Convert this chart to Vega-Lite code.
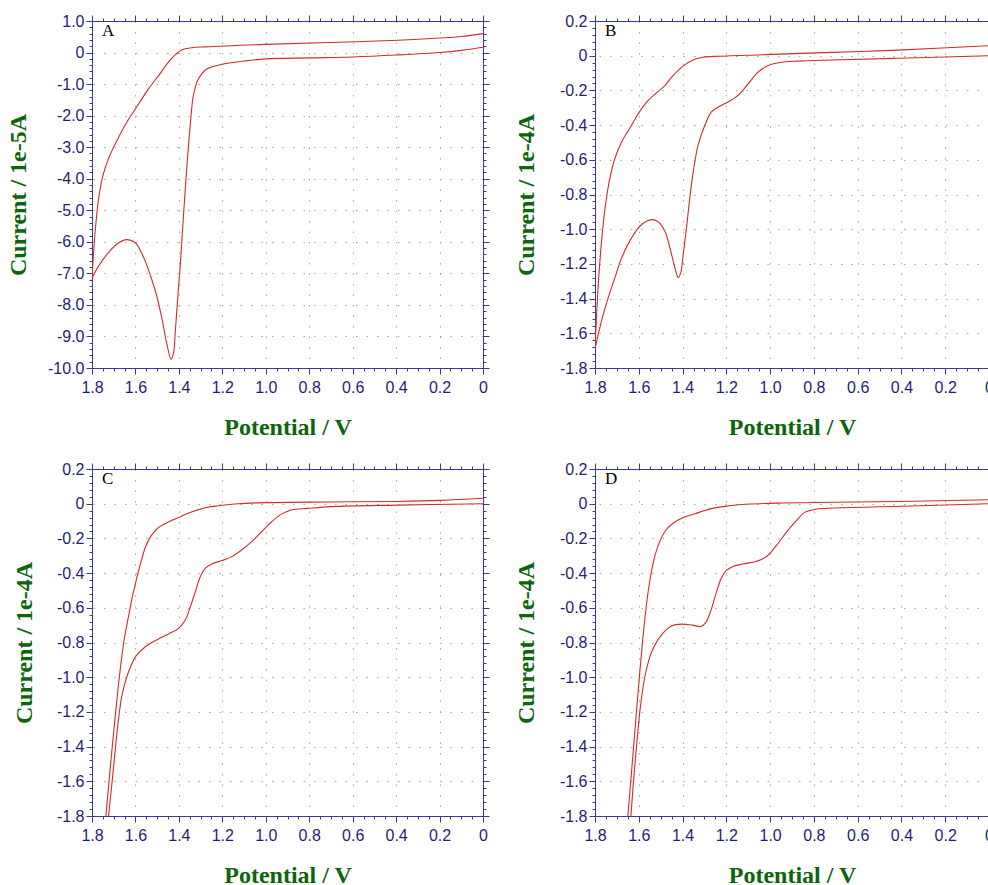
{
  "$schema": "https://vega.github.io/schema/vega-lite/v6.json",
  "padding": {"left": 6, "top": 13, "right": 0, "bottom": 0},
  "background": "white",
  "columns": 2,
  "spacing": {"row": 101, "column": 112},
  "bounds": "flush",
  "data": {"values": [
    {"p":"A","b":"u","s":1,"E":0,"I":0.6},{"p":"A","b":"u","s":2,"E":0.1,"I":0.51},{"p":"A","b":"u","s":3,"E":0.2,"I":0.46},{"p":"A","b":"u","s":4,"E":0.39,"I":0.39},{"p":"A","b":"u","s":5,"E":0.7,"I":0.32},{"p":"A","b":"u","s":6,"E":1.0,"I":0.26},{"p":"A","b":"u","s":7,"E":1.28,"I":0.18},{"p":"A","b":"u","s":8,"E":1.34,"I":0.15},{"p":"A","b":"u","s":9,"E":1.385,"I":0.09},{"p":"A","b":"u","s":10,"E":1.415,"I":-0.06},{"p":"A","b":"u","s":11,"E":1.45,"I":-0.32},{"p":"A","b":"u","s":12,"E":1.49,"I":-0.7},{"p":"A","b":"u","s":13,"E":1.54,"I":-1.15},{"p":"A","b":"u","s":14,"E":1.59,"I":-1.68},{"p":"A","b":"u","s":15,"E":1.64,"I":-2.21},{"p":"A","b":"u","s":16,"E":1.69,"I":-2.85},{"p":"A","b":"u","s":17,"E":1.725,"I":-3.38},{"p":"A","b":"u","s":18,"E":1.75,"I":-3.91},{"p":"A","b":"u","s":19,"E":1.77,"I":-4.65},{"p":"A","b":"u","s":20,"E":1.786,"I":-5.72},{"p":"A","b":"u","s":21,"E":1.8,"I":-7.15},
    {"p":"A","b":"l","s":1,"E":1.8,"I":-7.15},{"p":"A","b":"l","s":2,"E":1.771,"I":-6.78},{"p":"A","b":"l","s":3,"E":1.725,"I":-6.35},{"p":"A","b":"l","s":4,"E":1.679,"I":-6.04},{"p":"A","b":"l","s":5,"E":1.64,"I":-5.93},{"p":"A","b":"l","s":6,"E":1.602,"I":-6.02},{"p":"A","b":"l","s":7,"E":1.571,"I":-6.36},{"p":"A","b":"l","s":8,"E":1.51,"I":-7.52},{"p":"A","b":"l","s":9,"E":1.48,"I":-8.37},{"p":"A","b":"l","s":10,"E":1.456,"I":-9.22},{"p":"A","b":"l","s":11,"E":1.436,"I":-9.72},{"p":"A","b":"l","s":12,"E":1.425,"I":-9.54},{"p":"A","b":"l","s":13,"E":1.417,"I":-8.9},{"p":"A","b":"l","s":14,"E":1.406,"I":-7.84},{"p":"A","b":"l","s":15,"E":1.394,"I":-6.78},{"p":"A","b":"l","s":16,"E":1.379,"I":-5.18},{"p":"A","b":"l","s":17,"E":1.363,"I":-3.59},{"p":"A","b":"l","s":18,"E":1.348,"I":-2.32},{"p":"A","b":"l","s":19,"E":1.333,"I":-1.36},{"p":"A","b":"l","s":20,"E":1.31,"I":-0.83},{"p":"A","b":"l","s":21,"E":1.28,"I":-0.56},{"p":"A","b":"l","s":22,"E":1.25,"I":-0.46},{"p":"A","b":"l","s":23,"E":1.2,"I":-0.37},{"p":"A","b":"l","s":24,"E":1.1,"I":-0.27},{"p":"A","b":"l","s":25,"E":1.0,"I":-0.2},{"p":"A","b":"l","s":26,"E":0.8,"I":-0.17},{"p":"A","b":"l","s":27,"E":0.6,"I":-0.14},{"p":"A","b":"l","s":28,"E":0.4,"I":-0.08},{"p":"A","b":"l","s":29,"E":0.2,"I":0.0},{"p":"A","b":"l","s":30,"E":0.1,"I":0.07},{"p":"A","b":"l","s":31,"E":0,"I":0.17},
    {"p":"B","b":"u","s":1,"E":0,"I":0.058},{"p":"B","b":"u","s":2,"E":0.416,"I":0.032},{"p":"B","b":"u","s":3,"E":0.72,"I":0.019},{"p":"B","b":"u","s":4,"E":1.024,"I":0.006},{"p":"B","b":"u","s":5,"E":1.252,"I":-0.004},{"p":"B","b":"u","s":6,"E":1.314,"I":-0.01},{"p":"B","b":"u","s":7,"E":1.359,"I":-0.029},{"p":"B","b":"u","s":8,"E":1.405,"I":-0.067},{"p":"B","b":"u","s":9,"E":1.45,"I":-0.124},{"p":"B","b":"u","s":10,"E":1.481,"I":-0.172},{"p":"B","b":"u","s":11,"E":1.511,"I":-0.206},{"p":"B","b":"u","s":12,"E":1.557,"I":-0.258},{"p":"B","b":"u","s":13,"E":1.602,"I":-0.334},{"p":"B","b":"u","s":14,"E":1.633,"I":-0.401},{"p":"B","b":"u","s":15,"E":1.678,"I":-0.496},{"p":"B","b":"u","s":16,"E":1.709,"I":-0.592},{"p":"B","b":"u","s":17,"E":1.732,"I":-0.706},{"p":"B","b":"u","s":18,"E":1.754,"I":-0.878},{"p":"B","b":"u","s":19,"E":1.77,"I":-1.069},{"p":"B","b":"u","s":20,"E":1.785,"I":-1.317},{"p":"B","b":"u","s":21,"E":1.8,"I":-1.69},
    {"p":"B","b":"l","s":1,"E":1.8,"I":-1.69},{"p":"B","b":"l","s":2,"E":1.77,"I":-1.527},{"p":"B","b":"l","s":3,"E":1.739,"I":-1.393},{"p":"B","b":"l","s":4,"E":1.709,"I":-1.279},{"p":"B","b":"l","s":5,"E":1.678,"I":-1.164},{"p":"B","b":"l","s":6,"E":1.633,"I":-1.05},{"p":"B","b":"l","s":7,"E":1.587,"I":-0.973},{"p":"B","b":"l","s":8,"E":1.541,"I":-0.945},{"p":"B","b":"l","s":9,"E":1.511,"I":-0.958},{"p":"B","b":"l","s":10,"E":1.481,"I":-1.011},{"p":"B","b":"l","s":11,"E":1.458,"I":-1.107},{"p":"B","b":"l","s":12,"E":1.435,"I":-1.221},{"p":"B","b":"l","s":13,"E":1.42,"I":-1.279},{"p":"B","b":"l","s":14,"E":1.408,"I":-1.25},{"p":"B","b":"l","s":15,"E":1.397,"I":-1.145},{"p":"B","b":"l","s":16,"E":1.382,"I":-0.992},{"p":"B","b":"l","s":17,"E":1.367,"I":-0.821},{"p":"B","b":"l","s":18,"E":1.351,"I":-0.668},{"p":"B","b":"l","s":19,"E":1.329,"I":-0.515},{"p":"B","b":"l","s":20,"E":1.298,"I":-0.401},{"p":"B","b":"l","s":21,"E":1.268,"I":-0.324},{"p":"B","b":"l","s":22,"E":1.237,"I":-0.296},{"p":"B","b":"l","s":23,"E":1.192,"I":-0.267},{"p":"B","b":"l","s":24,"E":1.146,"I":-0.229},{"p":"B","b":"l","s":25,"E":1.1,"I":-0.162},{"p":"B","b":"l","s":26,"E":1.055,"I":-0.095},{"p":"B","b":"l","s":27,"E":1.009,"I":-0.057},{"p":"B","b":"l","s":28,"E":0.948,"I":-0.038},{"p":"B","b":"l","s":29,"E":0.872,"I":-0.031},{"p":"B","b":"l","s":30,"E":0.72,"I":-0.025},{"p":"B","b":"l","s":31,"E":0.416,"I":-0.015},{"p":"B","b":"l","s":32,"E":0,"I":0},
    {"p":"C","b":"u","s":1,"E":0,"I":0.031},{"p":"C","b":"u","s":2,"E":0.195,"I":0.019},{"p":"C","b":"u","s":3,"E":0.394,"I":0.013},{"p":"C","b":"u","s":4,"E":0.699,"I":0.01},{"p":"C","b":"u","s":5,"E":1.004,"I":0.006},{"p":"C","b":"u","s":6,"E":1.126,"I":0},{"p":"C","b":"u","s":7,"E":1.217,"I":-0.012},{"p":"C","b":"u","s":8,"E":1.278,"I":-0.023},{"p":"C","b":"u","s":9,"E":1.339,"I":-0.046},{"p":"C","b":"u","s":10,"E":1.393,"I":-0.075},{"p":"C","b":"u","s":11,"E":1.446,"I":-0.104},{"p":"C","b":"u","s":12,"E":1.492,"I":-0.136},{"p":"C","b":"u","s":13,"E":1.525,"I":-0.18},{"p":"C","b":"u","s":14,"E":1.553,"I":-0.247},{"p":"C","b":"u","s":15,"E":1.576,"I":-0.343},{"p":"C","b":"u","s":16,"E":1.596,"I":-0.439},{"p":"C","b":"u","s":17,"E":1.614,"I":-0.535},{"p":"C","b":"u","s":18,"E":1.632,"I":-0.65},{"p":"C","b":"u","s":19,"E":1.652,"I":-0.784},{"p":"C","b":"u","s":20,"E":1.672,"I":-0.976},{"p":"C","b":"u","s":21,"E":1.69,"I":-1.187},{"p":"C","b":"u","s":22,"E":1.705,"I":-1.379},{"p":"C","b":"u","s":23,"E":1.721,"I":-1.59},{"p":"C","b":"u","s":24,"E":1.736,"I":-1.8},
    {"p":"C","b":"l","s":1,"E":1.724,"I":-1.8},{"p":"C","b":"l","s":2,"E":1.708,"I":-1.609},{"p":"C","b":"l","s":3,"E":1.693,"I":-1.417},{"p":"C","b":"l","s":4,"E":1.678,"I":-1.244},{"p":"C","b":"l","s":5,"E":1.663,"I":-1.11},{"p":"C","b":"l","s":6,"E":1.644,"I":-1.015},{"p":"C","b":"l","s":7,"E":1.622,"I":-0.938},{"p":"C","b":"l","s":8,"E":1.599,"I":-0.88},{"p":"C","b":"l","s":9,"E":1.553,"I":-0.823},{"p":"C","b":"l","s":10,"E":1.5,"I":-0.784},{"p":"C","b":"l","s":11,"E":1.446,"I":-0.75},{"p":"C","b":"l","s":12,"E":1.4,"I":-0.717},{"p":"C","b":"l","s":13,"E":1.37,"I":-0.669},{"p":"C","b":"l","s":14,"E":1.347,"I":-0.593},{"p":"C","b":"l","s":15,"E":1.324,"I":-0.506},{"p":"C","b":"l","s":16,"E":1.301,"I":-0.42},{"p":"C","b":"l","s":17,"E":1.278,"I":-0.372},{"p":"C","b":"l","s":18,"E":1.248,"I":-0.347},{"p":"C","b":"l","s":19,"E":1.202,"I":-0.328},{"p":"C","b":"l","s":20,"E":1.156,"I":-0.305},{"p":"C","b":"l","s":21,"E":1.111,"I":-0.267},{"p":"C","b":"l","s":22,"E":1.065,"I":-0.219},{"p":"C","b":"l","s":23,"E":1.019,"I":-0.161},{"p":"C","b":"l","s":24,"E":0.973,"I":-0.104},{"p":"C","b":"l","s":25,"E":0.928,"I":-0.06},{"p":"C","b":"l","s":26,"E":0.882,"I":-0.036},{"p":"C","b":"l","s":27,"E":0.806,"I":-0.027},{"p":"C","b":"l","s":28,"E":0.699,"I":-0.017},{"p":"C","b":"l","s":29,"E":0.394,"I":-0.008},{"p":"C","b":"l","s":30,"E":0,"I":0},
    {"p":"D","b":"u","s":1,"E":0,"I":0.023},{"p":"D","b":"u","s":2,"E":0.405,"I":0.013},{"p":"D","b":"u","s":3,"E":0.712,"I":0.008},{"p":"D","b":"u","s":4,"E":0.942,"I":0.004},{"p":"D","b":"u","s":5,"E":1.095,"I":-0.002},{"p":"D","b":"u","s":6,"E":1.187,"I":-0.012},{"p":"D","b":"u","s":7,"E":1.264,"I":-0.027},{"p":"D","b":"u","s":8,"E":1.34,"I":-0.056},{"p":"D","b":"u","s":9,"E":1.402,"I":-0.083},{"p":"D","b":"u","s":10,"E":1.448,"I":-0.117},{"p":"D","b":"u","s":11,"E":1.478,"I":-0.156},{"p":"D","b":"u","s":12,"E":1.509,"I":-0.233},{"p":"D","b":"u","s":13,"E":1.532,"I":-0.329},{"p":"D","b":"u","s":14,"E":1.552,"I":-0.463},{"p":"D","b":"u","s":15,"E":1.57,"I":-0.637},{"p":"D","b":"u","s":16,"E":1.588,"I":-0.867},{"p":"D","b":"u","s":17,"E":1.604,"I":-1.098},{"p":"D","b":"u","s":18,"E":1.619,"I":-1.329},{"p":"D","b":"u","s":19,"E":1.634,"I":-1.56},{"p":"D","b":"u","s":20,"E":1.65,"I":-1.8},
    {"p":"D","b":"l","s":1,"E":1.636,"I":-1.8},{"p":"D","b":"l","s":2,"E":1.624,"I":-1.598},{"p":"D","b":"l","s":3,"E":1.608,"I":-1.367},{"p":"D","b":"l","s":4,"E":1.593,"I":-1.175},{"p":"D","b":"l","s":5,"E":1.57,"I":-0.983},{"p":"D","b":"l","s":6,"E":1.539,"I":-0.848},{"p":"D","b":"l","s":7,"E":1.493,"I":-0.752},{"p":"D","b":"l","s":8,"E":1.448,"I":-0.704},{"p":"D","b":"l","s":9,"E":1.402,"I":-0.694},{"p":"D","b":"l","s":10,"E":1.356,"I":-0.7},{"p":"D","b":"l","s":11,"E":1.317,"I":-0.708},{"p":"D","b":"l","s":12,"E":1.294,"I":-0.685},{"p":"D","b":"l","s":13,"E":1.271,"I":-0.617},{"p":"D","b":"l","s":14,"E":1.248,"I":-0.521},{"p":"D","b":"l","s":15,"E":1.225,"I":-0.435},{"p":"D","b":"l","s":16,"E":1.202,"I":-0.387},{"p":"D","b":"l","s":17,"E":1.172,"I":-0.363},{"p":"D","b":"l","s":18,"E":1.126,"I":-0.348},{"p":"D","b":"l","s":19,"E":1.064,"I":-0.333},{"p":"D","b":"l","s":20,"E":1.018,"I":-0.306},{"p":"D","b":"l","s":21,"E":0.972,"I":-0.242},{"p":"D","b":"l","s":22,"E":0.926,"I":-0.165},{"p":"D","b":"l","s":23,"E":0.88,"I":-0.098},{"p":"D","b":"l","s":24,"E":0.842,"I":-0.05},{"p":"D","b":"l","s":25,"E":0.789,"I":-0.031},{"p":"D","b":"l","s":26,"E":0.712,"I":-0.025},{"p":"D","b":"l","s":27,"E":0.405,"I":-0.015},{"p":"D","b":"l","s":28,"E":0,"I":0}
  ]},
  "concat": [
    {
      "width": 391, "height": 347,
      "title": {"text": "A", "anchor": "start", "frame": "group", "orient": "top", "offset": -40, "dx": 10, "baseline": "alphabetic", "font": "Liberation Serif", "fontSize": 17, "fontWeight": "normal", "color": "#000000"},
      "transform": [{"filter": "datum.p === 'A'"}],
      "layer": [
        {"mark": {"type": "line", "color": "#d22b2b", "strokeWidth": 1.1, "clip": true, "interpolate": "catmull-rom"},
         "encoding": {
           "x": {"field": "E", "type": "quantitative", "scale": {"domain": [0, 1.8], "reverse": true, "nice": false, "zero": false},
                 "axis": {"orient": "bottom", "values": [0,0.05,0.1,0.15,0.2,0.25,0.3,0.35,0.4,0.45,0.5,0.55,0.6,0.65,0.7,0.75,0.8,0.85,0.9,0.95,1,1.05,1.1,1.15,1.2,1.25,1.3,1.35,1.4,1.45,1.5,1.55,1.6,1.65,1.7,1.75,1.8], "title": "Potential / V",
                          "labelExpr": "abs(datum.value*5 - round(datum.value*5)) > 0.001 ? '' : (abs(datum.value) < 0.001 ? '0' : format(datum.value, '.1f'))",
                          "tickSize": {"condition": {"test": "abs(datum.value*5 - round(datum.value*5)) < 0.001", "value": 6}, "value": 3},
                          "grid": true, "gridOpacity": {"condition": {"test": "abs(datum.value*5 - round(datum.value*5)) < 0.001", "value": 1}, "value": 0},
                          "labelPadding": 5, "titlePadding": 20}},
           "y": {"field": "I", "type": "quantitative", "scale": {"domain": [-10, 1], "nice": false, "zero": false},
                 "axis": {"orient": "left", "values": [-10,-9.8,-9.6,-9.4,-9.2,-9,-8.8,-8.6,-8.4,-8.2,-8,-7.8,-7.6,-7.4,-7.2,-7,-6.8,-6.6,-6.4,-6.2,-6,-5.8,-5.6,-5.4,-5.2,-5,-4.8,-4.6,-4.4,-4.2,-4,-3.8,-3.6,-3.4,-3.2,-3,-2.8,-2.6,-2.4,-2.2,-2,-1.8,-1.6,-1.4,-1.2,-1,-0.8,-0.6,-0.4,-0.2,0,0.2,0.4,0.6,0.8,1], "title": "Current / 1e-5A",
                          "labelExpr": "abs(datum.value - round(datum.value)) > 0.001 ? '' : (abs(datum.value) < 0.001 ? '0' : (datum.value < 0 ? '-' : '') + format(abs(datum.value), '.1f'))",
                          "tickSize": {"condition": {"test": "abs(datum.value - round(datum.value)) < 0.001", "value": 6}, "value": 3},
                          "grid": true, "gridOpacity": {"condition": {"test": "abs(datum.value - round(datum.value)) < 0.001", "value": 1}, "value": 0},
                          "labelPadding": 2, "titlePadding": 17}},
           "detail": {"field": "b", "type": "nominal"},
           "order": {"field": "s", "type": "quantitative"}}},
        {"mark": {"type": "line", "opacity": 0},
         "encoding": {
           "x": {"field": "E", "type": "quantitative", "axis": {"orient": "top", "values": [0,0.05,0.1,0.15,0.2,0.25,0.3,0.35,0.4,0.45,0.5,0.55,0.6,0.65,0.7,0.75,0.8,0.85,0.9,0.95,1,1.05,1.1,1.15,1.2,1.25,1.3,1.35,1.4,1.45,1.5,1.55,1.6,1.65,1.7,1.75,1.8], "labels": false, "title": null, "grid": false,
                          "tickSize": {"condition": {"test": "abs(datum.value*5 - round(datum.value*5)) < 0.001", "value": 6}, "value": 3}}},
           "y": {"field": "I", "type": "quantitative", "axis": {"orient": "right", "values": [-10,-9.8,-9.6,-9.4,-9.2,-9,-8.8,-8.6,-8.4,-8.2,-8,-7.8,-7.6,-7.4,-7.2,-7,-6.8,-6.6,-6.4,-6.2,-6,-5.8,-5.6,-5.4,-5.2,-5,-4.8,-4.6,-4.4,-4.2,-4,-3.8,-3.6,-3.4,-3.2,-3,-2.8,-2.6,-2.4,-2.2,-2,-1.8,-1.6,-1.4,-1.2,-1,-0.8,-0.6,-0.4,-0.2,0,0.2,0.4,0.6,0.8,1], "labels": false, "title": null, "grid": false,
                          "tickSize": {"condition": {"test": "abs(datum.value - round(datum.value)) < 0.001", "value": 6}, "value": 3}}},
           "detail": {"field": "b", "type": "nominal"},
           "order": {"field": "s", "type": "quantitative"}}}
      ],
      "resolve": {"axis": {"x": "independent", "y": "independent"}}
    },
    {
      "width": 394, "height": 347,
      "title": {"text": "B", "anchor": "start", "frame": "group", "orient": "top", "offset": -40, "dx": 10, "baseline": "alphabetic", "font": "Liberation Serif", "fontSize": 17, "fontWeight": "normal", "color": "#000000"},
      "transform": [{"filter": "datum.p === 'B'"}],
      "layer": [
        {"mark": {"type": "line", "color": "#d22b2b", "strokeWidth": 1.1, "clip": true, "interpolate": "catmull-rom"},
         "encoding": {
           "x": {"field": "E", "type": "quantitative", "scale": {"domain": [0, 1.8], "reverse": true, "nice": false, "zero": false},
                 "axis": {"orient": "bottom", "values": [0,0.05,0.1,0.15,0.2,0.25,0.3,0.35,0.4,0.45,0.5,0.55,0.6,0.65,0.7,0.75,0.8,0.85,0.9,0.95,1,1.05,1.1,1.15,1.2,1.25,1.3,1.35,1.4,1.45,1.5,1.55,1.6,1.65,1.7,1.75,1.8], "title": "Potential / V",
                          "labelExpr": "abs(datum.value*5 - round(datum.value*5)) > 0.001 ? '' : (abs(datum.value) < 0.001 ? '0' : format(datum.value, '.1f'))",
                          "tickSize": {"condition": {"test": "abs(datum.value*5 - round(datum.value*5)) < 0.001", "value": 6}, "value": 3},
                          "grid": true, "gridOpacity": {"condition": {"test": "abs(datum.value*5 - round(datum.value*5)) < 0.001", "value": 1}, "value": 0},
                          "labelPadding": 5, "titlePadding": 20}},
           "y": {"field": "I", "type": "quantitative", "scale": {"domain": [-1.8, 0.2], "nice": false, "zero": false},
                 "axis": {"orient": "left", "values": [-1.8,-1.76,-1.72,-1.68,-1.64,-1.6,-1.56,-1.52,-1.48,-1.44,-1.4,-1.36,-1.32,-1.28,-1.24,-1.2,-1.16,-1.12,-1.08,-1.04,-1,-0.96,-0.92,-0.88,-0.84,-0.8,-0.76,-0.72,-0.68,-0.64,-0.6,-0.56,-0.52,-0.48,-0.44,-0.4,-0.36,-0.32,-0.28,-0.24,-0.2,-0.16,-0.12,-0.08,-0.04,0,0.04,0.08,0.12,0.16,0.2], "title": "Current / 1e-4A",
                          "labelExpr": "abs(datum.value*5 - round(datum.value*5)) > 0.001 ? '' : (abs(datum.value) < 0.001 ? '0' : (datum.value < 0 ? '-' : '') + format(abs(datum.value), '.1f'))",
                          "tickSize": {"condition": {"test": "abs(datum.value*5 - round(datum.value*5)) < 0.001", "value": 6}, "value": 3},
                          "grid": true, "gridOpacity": {"condition": {"test": "abs(datum.value*5 - round(datum.value*5)) < 0.001", "value": 1}, "value": 0},
                          "labelPadding": 2, "titlePadding": 21}},
           "detail": {"field": "b", "type": "nominal"},
           "order": {"field": "s", "type": "quantitative"}}},
        {"mark": {"type": "line", "opacity": 0},
         "encoding": {
           "x": {"field": "E", "type": "quantitative", "axis": {"orient": "top", "values": [0,0.05,0.1,0.15,0.2,0.25,0.3,0.35,0.4,0.45,0.5,0.55,0.6,0.65,0.7,0.75,0.8,0.85,0.9,0.95,1,1.05,1.1,1.15,1.2,1.25,1.3,1.35,1.4,1.45,1.5,1.55,1.6,1.65,1.7,1.75,1.8], "labels": false, "title": null, "grid": false,
                          "tickSize": {"condition": {"test": "abs(datum.value*5 - round(datum.value*5)) < 0.001", "value": 6}, "value": 3}}},
           "y": {"field": "I", "type": "quantitative", "axis": {"orient": "right", "values": [-1.8,-1.76,-1.72,-1.68,-1.64,-1.6,-1.56,-1.52,-1.48,-1.44,-1.4,-1.36,-1.32,-1.28,-1.24,-1.2,-1.16,-1.12,-1.08,-1.04,-1,-0.96,-0.92,-0.88,-0.84,-0.8,-0.76,-0.72,-0.68,-0.64,-0.6,-0.56,-0.52,-0.48,-0.44,-0.4,-0.36,-0.32,-0.28,-0.24,-0.2,-0.16,-0.12,-0.08,-0.04,0,0.04,0.08,0.12,0.16,0.2], "labels": false, "title": null, "grid": false,
                          "tickSize": {"condition": {"test": "abs(datum.value*5 - round(datum.value*5)) < 0.001", "value": 6}, "value": 3}}},
           "detail": {"field": "b", "type": "nominal"},
           "order": {"field": "s", "type": "quantitative"}}}
      ],
      "resolve": {"axis": {"x": "independent", "y": "independent"}}
    },
    {
      "width": 391, "height": 347,
      "title": {"text": "C", "anchor": "start", "frame": "group", "orient": "top", "offset": -40, "dx": 10, "baseline": "alphabetic", "font": "Liberation Serif", "fontSize": 17, "fontWeight": "normal", "color": "#000000"},
      "transform": [{"filter": "datum.p === 'C'"}],
      "layer": [
        {"mark": {"type": "line", "color": "#d22b2b", "strokeWidth": 1.1, "clip": true, "interpolate": "catmull-rom"},
         "encoding": {
           "x": {"field": "E", "type": "quantitative", "scale": {"domain": [0, 1.8], "reverse": true, "nice": false, "zero": false},
                 "axis": {"orient": "bottom", "values": [0,0.05,0.1,0.15,0.2,0.25,0.3,0.35,0.4,0.45,0.5,0.55,0.6,0.65,0.7,0.75,0.8,0.85,0.9,0.95,1,1.05,1.1,1.15,1.2,1.25,1.3,1.35,1.4,1.45,1.5,1.55,1.6,1.65,1.7,1.75,1.8], "title": "Potential / V",
                          "labelExpr": "abs(datum.value*5 - round(datum.value*5)) > 0.001 ? '' : (abs(datum.value) < 0.001 ? '0' : format(datum.value, '.1f'))",
                          "tickSize": {"condition": {"test": "abs(datum.value*5 - round(datum.value*5)) < 0.001", "value": 6}, "value": 3},
                          "grid": true, "gridOpacity": {"condition": {"test": "abs(datum.value*5 - round(datum.value*5)) < 0.001", "value": 1}, "value": 0},
                          "labelPadding": 5, "titlePadding": 20}},
           "y": {"field": "I", "type": "quantitative", "scale": {"domain": [-1.8, 0.2], "nice": false, "zero": false},
                 "axis": {"orient": "left", "values": [-1.8,-1.76,-1.72,-1.68,-1.64,-1.6,-1.56,-1.52,-1.48,-1.44,-1.4,-1.36,-1.32,-1.28,-1.24,-1.2,-1.16,-1.12,-1.08,-1.04,-1,-0.96,-0.92,-0.88,-0.84,-0.8,-0.76,-0.72,-0.68,-0.64,-0.6,-0.56,-0.52,-0.48,-0.44,-0.4,-0.36,-0.32,-0.28,-0.24,-0.2,-0.16,-0.12,-0.08,-0.04,0,0.04,0.08,0.12,0.16,0.2], "title": "Current / 1e-4A",
                          "labelExpr": "abs(datum.value*5 - round(datum.value*5)) > 0.001 ? '' : (abs(datum.value) < 0.001 ? '0' : (datum.value < 0 ? '-' : '') + format(abs(datum.value), '.1f'))",
                          "tickSize": {"condition": {"test": "abs(datum.value*5 - round(datum.value*5)) < 0.001", "value": 6}, "value": 3},
                          "grid": true, "gridOpacity": {"condition": {"test": "abs(datum.value*5 - round(datum.value*5)) < 0.001", "value": 1}, "value": 0},
                          "labelPadding": 2, "titlePadding": 20}},
           "detail": {"field": "b", "type": "nominal"},
           "order": {"field": "s", "type": "quantitative"}}},
        {"mark": {"type": "line", "opacity": 0},
         "encoding": {
           "x": {"field": "E", "type": "quantitative", "axis": {"orient": "top", "values": [0,0.05,0.1,0.15,0.2,0.25,0.3,0.35,0.4,0.45,0.5,0.55,0.6,0.65,0.7,0.75,0.8,0.85,0.9,0.95,1,1.05,1.1,1.15,1.2,1.25,1.3,1.35,1.4,1.45,1.5,1.55,1.6,1.65,1.7,1.75,1.8], "labels": false, "title": null, "grid": false,
                          "tickSize": {"condition": {"test": "abs(datum.value*5 - round(datum.value*5)) < 0.001", "value": 6}, "value": 3}}},
           "y": {"field": "I", "type": "quantitative", "axis": {"orient": "right", "values": [-1.8,-1.76,-1.72,-1.68,-1.64,-1.6,-1.56,-1.52,-1.48,-1.44,-1.4,-1.36,-1.32,-1.28,-1.24,-1.2,-1.16,-1.12,-1.08,-1.04,-1,-0.96,-0.92,-0.88,-0.84,-0.8,-0.76,-0.72,-0.68,-0.64,-0.6,-0.56,-0.52,-0.48,-0.44,-0.4,-0.36,-0.32,-0.28,-0.24,-0.2,-0.16,-0.12,-0.08,-0.04,0,0.04,0.08,0.12,0.16,0.2], "labels": false, "title": null, "grid": false,
                          "tickSize": {"condition": {"test": "abs(datum.value*5 - round(datum.value*5)) < 0.001", "value": 6}, "value": 3}}},
           "detail": {"field": "b", "type": "nominal"},
           "order": {"field": "s", "type": "quantitative"}}}
      ],
      "resolve": {"axis": {"x": "independent", "y": "independent"}}
    },
    {
      "width": 394, "height": 347,
      "title": {"text": "D", "anchor": "start", "frame": "group", "orient": "top", "offset": -40, "dx": 10, "baseline": "alphabetic", "font": "Liberation Serif", "fontSize": 17, "fontWeight": "normal", "color": "#000000"},
      "transform": [{"filter": "datum.p === 'D'"}],
      "layer": [
        {"mark": {"type": "line", "color": "#d22b2b", "strokeWidth": 1.1, "clip": true, "interpolate": "catmull-rom"},
         "encoding": {
           "x": {"field": "E", "type": "quantitative", "scale": {"domain": [0, 1.8], "reverse": true, "nice": false, "zero": false},
                 "axis": {"orient": "bottom", "values": [0,0.05,0.1,0.15,0.2,0.25,0.3,0.35,0.4,0.45,0.5,0.55,0.6,0.65,0.7,0.75,0.8,0.85,0.9,0.95,1,1.05,1.1,1.15,1.2,1.25,1.3,1.35,1.4,1.45,1.5,1.55,1.6,1.65,1.7,1.75,1.8], "title": "Potential / V",
                          "labelExpr": "abs(datum.value*5 - round(datum.value*5)) > 0.001 ? '' : (abs(datum.value) < 0.001 ? '0' : format(datum.value, '.1f'))",
                          "tickSize": {"condition": {"test": "abs(datum.value*5 - round(datum.value*5)) < 0.001", "value": 6}, "value": 3},
                          "grid": true, "gridOpacity": {"condition": {"test": "abs(datum.value*5 - round(datum.value*5)) < 0.001", "value": 1}, "value": 0},
                          "labelPadding": 5, "titlePadding": 20}},
           "y": {"field": "I", "type": "quantitative", "scale": {"domain": [-1.8, 0.2], "nice": false, "zero": false},
                 "axis": {"orient": "left", "values": [-1.8,-1.76,-1.72,-1.68,-1.64,-1.6,-1.56,-1.52,-1.48,-1.44,-1.4,-1.36,-1.32,-1.28,-1.24,-1.2,-1.16,-1.12,-1.08,-1.04,-1,-0.96,-0.92,-0.88,-0.84,-0.8,-0.76,-0.72,-0.68,-0.64,-0.6,-0.56,-0.52,-0.48,-0.44,-0.4,-0.36,-0.32,-0.28,-0.24,-0.2,-0.16,-0.12,-0.08,-0.04,0,0.04,0.08,0.12,0.16,0.2], "title": "Current / 1e-4A",
                          "labelExpr": "abs(datum.value*5 - round(datum.value*5)) > 0.001 ? '' : (abs(datum.value) < 0.001 ? '0' : (datum.value < 0 ? '-' : '') + format(abs(datum.value), '.1f'))",
                          "tickSize": {"condition": {"test": "abs(datum.value*5 - round(datum.value*5)) < 0.001", "value": 6}, "value": 3},
                          "grid": true, "gridOpacity": {"condition": {"test": "abs(datum.value*5 - round(datum.value*5)) < 0.001", "value": 1}, "value": 0},
                          "labelPadding": 2, "titlePadding": 21}},
           "detail": {"field": "b", "type": "nominal"},
           "order": {"field": "s", "type": "quantitative"}}},
        {"mark": {"type": "line", "opacity": 0},
         "encoding": {
           "x": {"field": "E", "type": "quantitative", "axis": {"orient": "top", "values": [0,0.05,0.1,0.15,0.2,0.25,0.3,0.35,0.4,0.45,0.5,0.55,0.6,0.65,0.7,0.75,0.8,0.85,0.9,0.95,1,1.05,1.1,1.15,1.2,1.25,1.3,1.35,1.4,1.45,1.5,1.55,1.6,1.65,1.7,1.75,1.8], "labels": false, "title": null, "grid": false,
                          "tickSize": {"condition": {"test": "abs(datum.value*5 - round(datum.value*5)) < 0.001", "value": 6}, "value": 3}}},
           "y": {"field": "I", "type": "quantitative", "axis": {"orient": "right", "values": [-1.8,-1.76,-1.72,-1.68,-1.64,-1.6,-1.56,-1.52,-1.48,-1.44,-1.4,-1.36,-1.32,-1.28,-1.24,-1.2,-1.16,-1.12,-1.08,-1.04,-1,-0.96,-0.92,-0.88,-0.84,-0.8,-0.76,-0.72,-0.68,-0.64,-0.6,-0.56,-0.52,-0.48,-0.44,-0.4,-0.36,-0.32,-0.28,-0.24,-0.2,-0.16,-0.12,-0.08,-0.04,0,0.04,0.08,0.12,0.16,0.2], "labels": false, "title": null, "grid": false,
                          "tickSize": {"condition": {"test": "abs(datum.value*5 - round(datum.value*5)) < 0.001", "value": 6}, "value": 3}}},
           "detail": {"field": "b", "type": "nominal"},
           "order": {"field": "s", "type": "quantitative"}}}
      ],
      "resolve": {"axis": {"x": "independent", "y": "independent"}}
    }
  ],
  "config": {
    "view": {"stroke": null},
    "axis": {"domainColor": "#3b3b92", "tickColor": "#3b3b92", "domainWidth": 1, "tickWidth": 1,
             "labelColor": "#1f1f72", "labelFont": "Liberation Sans", "labelFontSize": 16,
             "titleFont": "Liberation Serif", "titleFontSize": 24, "titleFontWeight": "bold", "titleColor": "#0b650b",
             "gridColor": "#a9a99c", "gridDash": [1.5, 9], "gridWidth": 1,
             "labelOverlap": false, "labelFlush": false, "labelBound": false}
  }
}
